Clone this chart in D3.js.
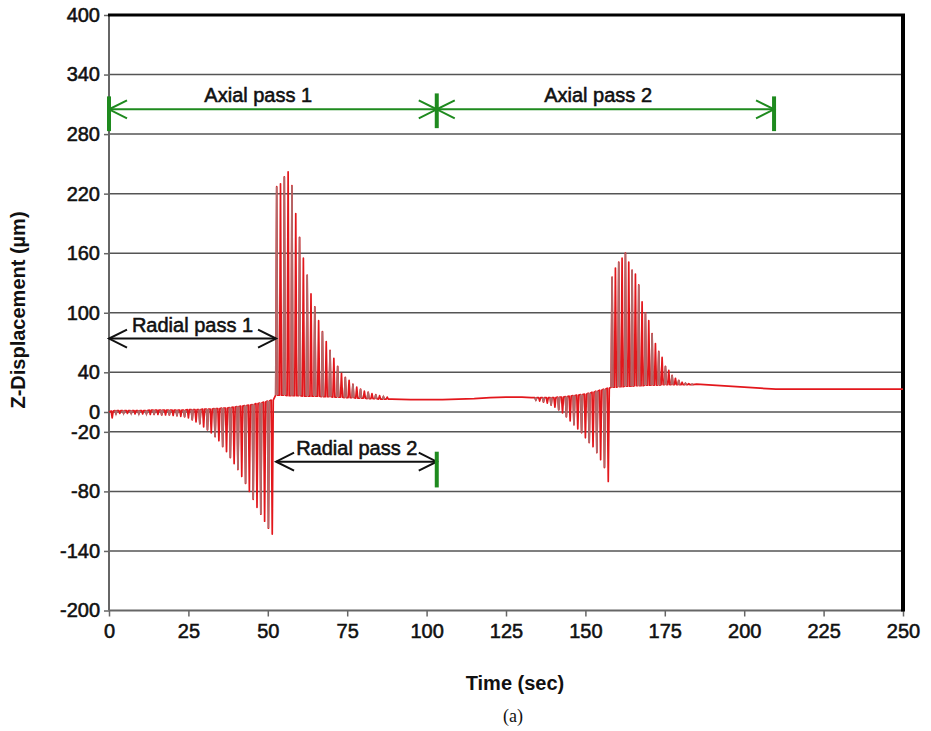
<!DOCTYPE html>
<html>
<head>
<meta charset="utf-8">
<script src="https://cdn.jsdelivr.net/npm/d3@7"></script>
<style>
  html, body { margin: 0; padding: 0; background: #fff; }
  svg { display: block; }
  text { font-family: "Liberation Sans", Arial, sans-serif; fill: #111; }
  .heavy { stroke: #111; stroke-width: 0.55px; }
</style>
</head>
<body>
<svg id="chart" width="931" height="731"></svg>
<script>
// ---- axis ticks ----
const xTicks = [0, 25, 50, 75, 100, 125, 150, 175, 200, 225, 250];
const yTicks = [-200, -140, -80, -20, 0, 40, 100, 160, 220, 280, 340, 400];

// ---- Radial pass 1: spikes every 1.2 s from t = 1.0 (downward tips, upper envelope) ----
const radial1Start = 1.0, radial1Step = 1.2;
const radial1Tips = [-6, -2, -1.5, -1.5, -1.5, -1.5, -2, -2, -2, -2,
  -2.5, -2.5, -2.5, -3, -3, -3, -3.5, -4, -4.5, -5,
  -6, -8, -10, -12, -15, -18, -21, -25, -29, -35,
  -40, -46, -52, -58, -65, -72, -80, -88, -96, -103,
  -110, -117, -123];
const radial1Tops = [1, 1.5, 1.5, 1.5, 1.5, 1.5, 1.5, 1.5, 1.5, 1.5,
  2, 2, 2, 2, 2, 2, 2, 2, 2, 2,
  2.5, 2.5, 2.5, 2.5, 3, 3, 3, 3.5, 3.5, 4,
  4, 4.5, 5, 5.5, 6, 6.5, 7, 7.5, 8.5, 9,
  10, 11, 12];

// ---- Axial pass 1: upward spikes every 1.2 s from t = 52.8 ----
const axial1Start = 52.8, axial1Step = 1.2;
const axial1Peaks = [227, 230, 237, 242, 228, 200, 176, 155, 138, 119,
  106, 92, 81, 71, 62, 54, 46, 39, 35, 32,
  28, 25, 23, 21, 20, 18.5, 17.5, 16.5, 15.5, 15];
const axial1Bases = [17, 17, 17, 16.5, 16.5, 16.5, 16.5, 16, 16, 16,
  16, 16, 15.5, 15.5, 15.5, 15, 15, 15, 14.5, 14.5,
  14.5, 14, 14, 14, 13.5, 13.5, 13.5, 13, 13, 13];

// ---- quiet drift between the two passes ----
const driftTimes = [89, 95, 100, 105, 110, 115, 120, 125, 130, 133];
const driftValues = [13, 12.5, 12.5, 12.5, 13, 13.5, 14.5, 15, 15, 14.5];

// ---- Radial pass 2: spikes every 1.2 s from t = 134.4 ----
const radial2Start = 134.4, radial2Step = 1.2;
const radial2Tips = [12, 11, 10, 9, 7, 5, 2, -1, -5, -9,
  -13, -17, -21, -26, -31, -35, -41, -48, -56, -70];
const radial2Tops = [14.5, 14.5, 14.5, 14.5, 14.5, 14.5, 15, 15, 15.5, 16,
  16.5, 17, 17.5, 18, 19, 20, 21, 22, 23, 24];

// ---- Axial pass 2: spikes every 1.05 s from t = 158.4 ----
const axial2Start = 158.4, axial2Step = 1.05;
const axial2Peaks = [136, 145, 151, 155, 160, 151, 143, 139, 128, 111,
  100, 92, 79, 69, 61, 55, 46, 42, 37, 34,
  32, 30, 29, 28.5, 28];
const axial2Bases = [25, 25, 25.5, 25.5, 26, 26, 26, 26.5, 26.5, 26.5,
  27, 27, 27, 27, 27, 27.5, 27.5, 27.5, 27.5, 27.5,
  27.5, 27.5, 27.5, 27.5, 27.5];

// ---- settling tail ----
const tailTimes = [185, 190, 195, 200, 205, 210, 220, 230, 240, 250];
const tailValues = [28, 27, 26, 25, 24, 23, 23, 23, 23, 23];

// ---- pass annotations ----
const passLabels = ["Axial pass 1", "Axial pass 2", "Radial pass 1", "Radial pass 2"];
const passFrom = [0, 103.2, 0, 52.6];
const passTo = [103.2, 209.4, 52.6, 103.2];
const passLevel = [305, 305, 74, -50];
const passLabelAt = [47, 154, 26.3, 78];
const passColor = ["#1e8a1e", "#1e8a1e", "#111", "#111"];
// green end markers: time, upper value, lower value
const markerTimes = [0, 103.2, 209.4, 103.2];
const markerHigh = [318, 321, 318, -40];
const markerLow = [283, 286, 283, -76];

// ---------------------------------------------------------------
const svg = d3.select("#chart");
const x = d3.scaleLinear().domain([0, 250]).range([109, 903]);
const y = d3.scaleLinear().domain([-200, 400]).range([610.5, 15]);

// grid lines
svg.append("g").selectAll("line").data(yTicks.filter(v => v !== 400 && v !== -200)).join("line")
  .attr("x1", x(0)).attr("x2", x(250))
  .attr("y1", d => y(d)).attr("y2", d => y(d))
  .attr("stroke", "#555").attr("stroke-width", 1.5);

// axes
const yAxis = svg.append("g").attr("transform", `translate(${x(0)},0)`)
  .call(d3.axisLeft(y).tickValues(yTicks).tickSize(5).tickPadding(4).tickFormat(d => String(d)));
const xAxis = svg.append("g").attr("transform", `translate(0,${y(-200)})`)
  .call(d3.axisBottom(x).tickValues(xTicks).tickSize(6).tickPadding(7).tickFormat(d => String(d)));
[yAxis, xAxis].forEach(a => {
  a.select(".domain").attr("stroke", "#666").attr("stroke-width", 2);
  a.selectAll(".tick line").attr("stroke", "#666").attr("stroke-width", 1.5);
  a.selectAll(".tick text").attr("font-size", 20).attr("class", "heavy")
    .attr("font-family", "'Liberation Sans', Arial, sans-serif").attr("fill", "#111");
});
yAxis.select(".domain").attr("d", `M0,${y(400)}V${y(-200)}`);
xAxis.select(".domain").attr("d", `M${x(0)},0H${x(250)}`);

// frame: top and right borders
svg.append("line").attr("x1", x(0) - 1).attr("x2", x(250) + 2)
  .attr("y1", y(400)).attr("y2", y(400)).attr("stroke", "#000").attr("stroke-width", 3);
svg.append("line").attr("x1", x(250)).attr("x2", x(250))
  .attr("y1", y(400) - 1).attr("y2", y(-200) + 1).attr("stroke", "#000").attr("stroke-width", 4);

// ---- build the signal as a sequence of spikes ----
const halfWidth = 0.32;
const spikes = [];
function addSpikes(start, step, tips, bases) {
  tips.forEach((v, i) => spikes.push({ t: start + i * step, base: bases[i], tip: v }));
}
addSpikes(radial1Start, radial1Step, radial1Tips, radial1Tops);
addSpikes(axial1Start, axial1Step, axial1Peaks, axial1Bases);
const driftIndex = spikes.length;
addSpikes(radial2Start, radial2Step, radial2Tips, radial2Tops);
addSpikes(axial2Start, axial2Step, axial2Peaks, axial2Bases);

const pts = [[0, 0]];
spikes.forEach((s, i) => {
  if (i === driftIndex) driftTimes.forEach((t, j) => pts.push([t, driftValues[j]]));
  pts.push([s.t - halfWidth, s.base], [s.t, s.tip], [s.t + halfWidth, s.base]);
});
tailTimes.forEach((t, j) => pts.push([t, tailValues[j]]));

const line = d3.line().x(d => x(d[0])).y(d => y(d[1]));
svg.append("path").attr("d", line(pts)).attr("fill", "none")
  .attr("stroke", "#e3171c").attr("stroke-width", 1.7).attr("stroke-linejoin", "round");

// alternate spikes in the muted shade
svg.append("g").selectAll("path").data(spikes.filter((s, i) => i % 2 === 1)).join("path")
  .attr("d", s => line([[s.t - halfWidth, s.base], [s.t, s.tip], [s.t + halfWidth, s.base]]))
  .attr("fill", "none").attr("stroke", "#b06a6b").attr("stroke-width", 1.6);

// ---- pass annotations ----
const ann = svg.append("g");
const headLen = 18, headHalf = 9;
passLabels.forEach((label, i) => {
  const x1 = x(passFrom[i]), x2 = x(passTo[i]), yy = y(passLevel[i]);
  const c = passColor[i];
  ann.append("line").attr("x1", x1).attr("x2", x2).attr("y1", yy).attr("y2", yy)
    .attr("stroke", c).attr("stroke-width", 2);
  ann.append("path")
    .attr("d", `M${x1 + headLen},${yy - headHalf}L${x1},${yy}L${x1 + headLen},${yy + headHalf}` +
               `M${x2 - headLen},${yy - headHalf}L${x2},${yy}L${x2 - headLen},${yy + headHalf}`)
    .attr("fill", "none").attr("stroke", c).attr("stroke-width", 2);
  ann.append("text").attr("x", x(passLabelAt[i])).attr("y", yy - 7).attr("class", "heavy")
    .attr("text-anchor", "middle").attr("font-size", 20).text(label);
});
markerTimes.forEach((t, i) => {
  ann.append("line").attr("x1", x(t)).attr("x2", x(t))
    .attr("y1", y(markerHigh[i])).attr("y2", y(markerLow[i]))
    .attr("stroke", "#1e8a1e").attr("stroke-width", 4);
});

// ---- titles ----
svg.append("text").attr("transform", `translate(25,310) rotate(-90)`)
  .attr("text-anchor", "middle").attr("font-size", 20).attr("font-weight", "bold")
  .text("Z-Displacement (µm)");
svg.append("text").attr("x", 515).attr("y", 690).attr("text-anchor", "middle")
  .attr("font-size", 20).attr("font-weight", "bold").text("Time (sec)");
svg.append("text").attr("x", 513).attr("y", 722).attr("text-anchor", "middle")
  .attr("font-size", 18).style("font-family", "'Liberation Serif', 'Times New Roman', serif")
  .text("(a)");
</script>
</body>
</html>
